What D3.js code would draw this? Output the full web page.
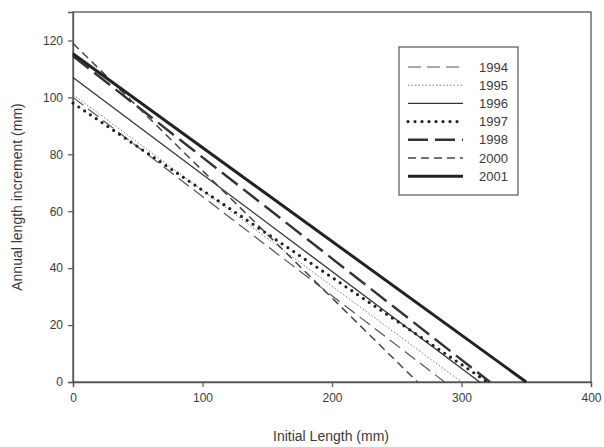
<!DOCTYPE html>
<html>
<head>
<meta charset="utf-8">
<script src="https://cdn.jsdelivr.net/npm/d3@7"></script>
<style>
  html, body { margin: 0; padding: 0; background: #fff; }
  svg { display: block; }
  text { font-family: "Liberation Sans", Arial, sans-serif; fill: #3a3a3a; }
</style>
</head>
<body>
<svg id="chart" width="604" height="447"></svg>
<script>
// Yearly regressions of annual length increment on initial length:
// each line runs from its intercept at 0 mm down to where it reaches 0.
const years = ["1994", "1995", "1996", "1997", "1998", "2000", "2001"];
const intercepts = [100, 101, 107, 98, 114.5, 119, 115.3];   // increment (mm) at initial length 0
const zeroLengths = [287, 300, 314, 320, 322, 266, 350];       // initial length (mm) where increment hits 0

const xTicks = [0, 100, 200, 300, 400];
const yTicks = [0, 20, 40, 60, 80, 100, 120];

// Line styles per year
const styles = {
  "1994": { width: 1.2, dash: "13,6", color: "#555" },
  "1995": { width: 1.0, dash: "1.5,2", color: "#777" },
  "1996": { width: 1.3, dash: null, color: "#333" },
  "1997": { width: 3.2, dash: "0,7", color: "#222", cap: "round" },
  "1998": { width: 2.4, dash: "20,7", color: "#333" },
  "2000": { width: 1.5, dash: "8,5", color: "#444" },
  "2001": { width: 3.0, dash: null, color: "#222" }
};

const svg = d3.select("#chart");
const plotLeft = 73, plotRight = 591, plotTop = 12, plotBottom = 382;

const x = d3.scaleLinear().domain([0, 400]).range([plotLeft, plotRight]);
const y = d3.scaleLinear().domain([0, 130]).range([plotBottom, plotTop]);

// Frame
svg.append("rect")
  .attr("x", plotLeft).attr("y", plotTop)
  .attr("width", plotRight - plotLeft).attr("height", plotBottom - plotTop)
  .attr("fill", "none").attr("stroke", "#555").attr("stroke-width", 1.3);

// X axis
const xAxis = svg.append("g")
  .attr("transform", `translate(0,${plotBottom})`)
  .call(d3.axisBottom(x).tickValues(xTicks).tickSize(5).tickPadding(6));
// Y axis
const yAxis = svg.append("g")
  .attr("transform", `translate(${plotLeft},0)`)
  .call(d3.axisLeft(y).tickValues(yTicks).tickSize(5).tickPadding(5));

[xAxis, yAxis].forEach(g => {
  g.select(".domain").attr("stroke", "#555").attr("stroke-width", 1.3);
  g.selectAll(".tick line").attr("stroke", "#555").attr("stroke-width", 1.2);
  g.selectAll(".tick text")
    .attr("font-size", 12)
    .attr("font-family", "'Liberation Sans', Arial, sans-serif")
    .attr("fill", "#3a3a3a");
});

// Axis titles
svg.append("text")
  .attr("x", 331).attr("y", 441)
  .attr("text-anchor", "middle").attr("font-size", 14)
  .text("Initial Length (mm)");
svg.append("text")
  .attr("transform", `translate(22,${(plotTop + plotBottom) / 2}) rotate(-90)`)
  .attr("text-anchor", "middle").attr("font-size", 14)
  .text("Annual length increment (mm)");

// Regression lines
const line = d3.line().x(d => x(d[0])).y(d => y(d[1]));
const plot = svg.append("g");
years.forEach((yr, i) => {
  const s = styles[yr];
  plot.append("path")
    .datum([[0, intercepts[i]], [zeroLengths[i], 0]])
    .attr("d", line)
    .attr("fill", "none")
    .attr("stroke", s.color)
    .attr("stroke-width", s.width)
    .attr("stroke-dasharray", s.dash)
    .attr("stroke-linecap", s.cap || "butt");
});

// Legend
const lg = svg.append("g");
lg.append("rect")
  .attr("x", 399).attr("y", 47).attr("width", 119).attr("height", 148)
  .attr("fill", "#fff").attr("stroke", "#555").attr("stroke-width", 1.2);
years.forEach((yr, i) => {
  const s = styles[yr];
  const yy = 67 + i * 18.2;
  lg.append("line")
    .attr("x1", 408).attr("x2", 463).attr("y1", yy).attr("y2", yy)
    .attr("stroke", s.color).attr("stroke-width", s.width)
    .attr("stroke-dasharray", s.dash)
    .attr("stroke-linecap", s.cap || "butt");
  lg.append("text")
    .attr("x", 479).attr("y", yy + 4.5)
    .attr("font-size", 13)
    .text(yr);
});
</script>
</body>
</html>
